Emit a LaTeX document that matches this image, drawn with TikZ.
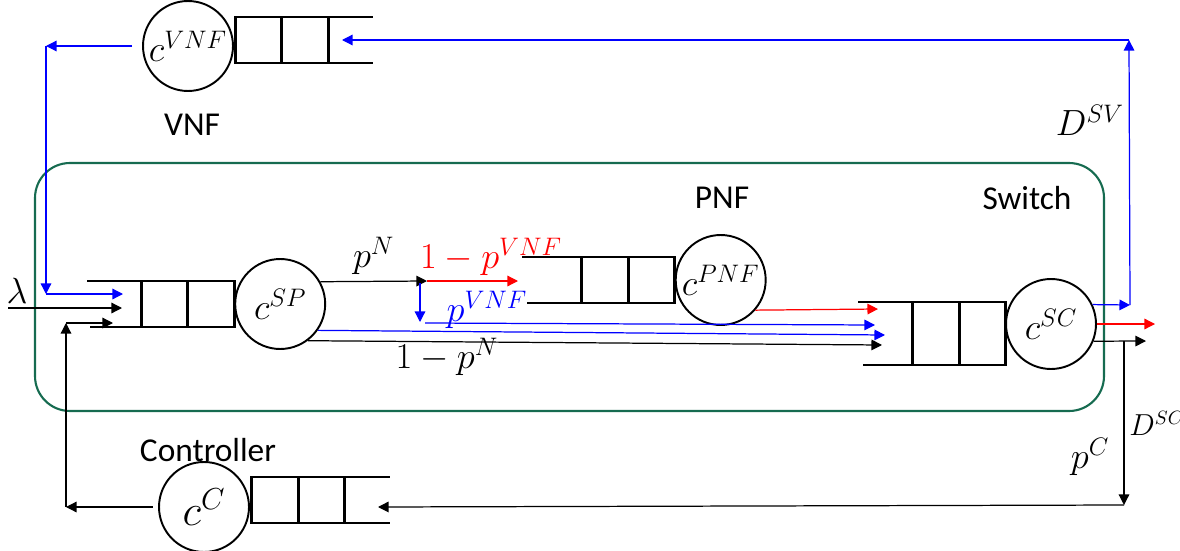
\documentclass[tikz,border=0pt]{standalone}
\usepackage{fontspec}
\newfontfamily\labelfont{Carlito}
\usetikzlibrary{arrows.meta,positioning}
\definecolor{boxgreen}{RGB}{22,107,80}

\begin{document}
\begin{tikzpicture}[x=0.02cm, y=-0.02cm,
        server/.style={circle, draw, line width=1.1pt, minimum size=1.8cm, inner sep=0pt, font=\fontsize{21}{24}\selectfont},
        slot/.style={draw, line width=1.6pt, minimum width=0.93cm, minimum height=0.92cm, inner sep=0pt, outer sep=0pt},
        rail/.style={line width=0.7pt},
        flow/.style={line width=0.7pt, -{Triangle[length=6pt,width=6pt]}},
        lbl/.style={font=\labelfont\fontsize{19}{22}\selectfont},
        mlbl/.style={font=\fontsize{22}{25}\selectfont}]
        \useasboundingbox (0,0) rectangle (1180,551);

        % Draw switch box
        \draw[boxgreen, line width=1.2pt, rounded corners=0.7cm] (35,163) rectangle (1104,411);

        % Draw VNF queue
        \node[server] (vnf) at (188,46) {$c^{VNF}$};
        \node[slot] (vnf1) at (258.5,40) {};
        \node[slot, right=0pt of vnf1] (vnf2) {};
        \draw[rail] (vnf2.north east) -- ++(45,0);
        \draw[rail] (vnf2.south east) -- ++(45,0);
        \node[lbl] (vnfTxt) at (192,125) {VNF};

        % Draw SP queue
        \node[slot] (sp1) at (164.5,304) {};
        \node[slot, right=0pt of sp1] (sp2) {};
        \node[server, right=0pt of sp2] (sp) {$c^{SP}$};
        \draw[rail] (sp1.north west) -- ++(-54,0);
        \draw[rail] (sp1.south west) -- ++(-51,0);

        % Draw PNF queue
        \node[slot] (pnf1) at (605,280) {};
        \node[slot, right=0pt of pnf1] (pnf2) {};
        \node[server, right=0pt of pnf2] (pnf) {$c^{PNF}$};
        \draw[rail] (pnf1.north west) -- ++(-60,0);
        \draw[rail] (pnf1.south west) -- ++(-55,0);
        \node[lbl] (pnfTxt) at (722,198) {PNF};

        % Draw switch queue
        \node[slot, minimum height=1.26cm] (sc1) at (936,333.5) {};
        \node[slot, minimum height=1.26cm, right=0pt of sc1] (sc2) {};
        \node[server] (sc) at (1051,324) {$c^{SC}$};
        \draw[rail] (sc1.north west) -- ++(-55,0);
        \draw[rail] (sc1.south west) -- ++(-50,0);
        \node[lbl] (swTxt) at (1027,198) {Switch};

        % Draw controller queue
        \node[server, font=\fontsize{24}{27}\selectfont] (ctrl) at (204,507) {$c^{C}$};
        \node[slot] (ctrl1) at (275,500) {};
        \node[slot, right=0pt of ctrl1] (ctrl2) {};
        \draw[rail] (ctrl2.north east) -- ++(45,0);
        \draw[rail] (ctrl2.south east) -- ++(45,0);
        \node[lbl] (ctrlTxt) at (208,450) {Controller};

        % Turning points
        \coordinate (vnfL) at (46,46);
        \coordinate (vnfD) at (46,294);
        \coordinate (spInB) at (123,294);
        \coordinate (lamS) at (8,308);
        \coordinate (lamE) at (122,308);
        \coordinate (ctrlL) at (66,507);
        \coordinate (ctrlU) at (66,323);
        \coordinate (spInK) at (113,323);
        \coordinate (split) at (427,281);
        \coordinate (pnfIn) at (518,281);
        \coordinate (splitB) at (420,283);
        \coordinate (vnfDn) at (420,322);
        \coordinate (vnfS) at (425,323);
        \coordinate (scInB) at (875,325);
        \coordinate (scInV) at (885,335);
        \coordinate (scInK) at (882,345);
        \coordinate (scInR) at (878,309);
        \coordinate (svOut) at (1130,305);
        \coordinate (svTop) at (1129,40);
        \coordinate (vnfIn) at (342,40);
        \coordinate (swOut) at (1155,324);
        \coordinate (scOut) at (1146,341);
        \coordinate (scDown) at (1124,341);
        \coordinate (scBot) at (1124,505);
        \coordinate (cIn) at (378,507);

        % Arrivals to SP
        \node[font=\fontsize{20}{23}\selectfont] (lam) at (17,291) {$\lambda$};
        \draw[flow] (lamS) -- (lamE);
        \draw[flow, blue, shorten <=0.2cm] (vnf.west) -- (vnfL);
        \draw[flow, blue] (vnfL) -- (vnfD);
        \draw[flow, blue] (vnfD) -- (spInB);
        \draw[flow, shorten <=3pt] (ctrl.west) -- (ctrlL);
        \draw[flow] (ctrlL) -- (ctrlU);
        \draw[flow] (ctrlU) -- (spInK);

        % SP outputs
        \draw[flow] (sp.29) -- (split) node[midway, above, mlbl] (pN) {$p^N$};
        \draw[flow, red] (split) -- (pnfIn);
        \node[mlbl, red] (pV1) at (491,257) {$1-p^{VNF}$};
        \draw[flow, blue] (splitB) -- (vnfDn);
        \draw[flow, blue] (vnfS) -- (scInB);
        \node[mlbl, blue] (pV) at (487,310) {$p^{VNF}$};
        \draw[flow, blue] (sp.-35) -- (scInV);
        \draw[flow] (sp.-53) -- (scInK);
        \node[mlbl] (pN1) at (447,357) {$1-p^N$};

        % PNF output
        \draw[flow, red] (pnf.-41) -- (scInR);

        % Switch outputs
        \draw[flow, blue] (sc.25) -- (svOut);
        \draw[flow, blue] (svOut) -- (svTop);
        \draw[flow, blue] (svTop) -- (vnfIn);
        \node[mlbl] (dSV) at (1090,120) {$D^{SV}$};
        \draw[flow, red] (sc.east) -- (swOut);
        \draw[flow] (sc.-22) -- (scOut);
        \draw[flow] (scDown) -- (scBot);
        \draw[flow] (scBot) -- (cIn);
        \node[anchor=west, inner sep=0pt, font=\fontsize{16}{19}\selectfont] (dSC) at (1129,423) {$D^{SC}$};
        \node[mlbl] (pC) at (1090,457) {$p^C$};
    \end{tikzpicture}
\end{document}
